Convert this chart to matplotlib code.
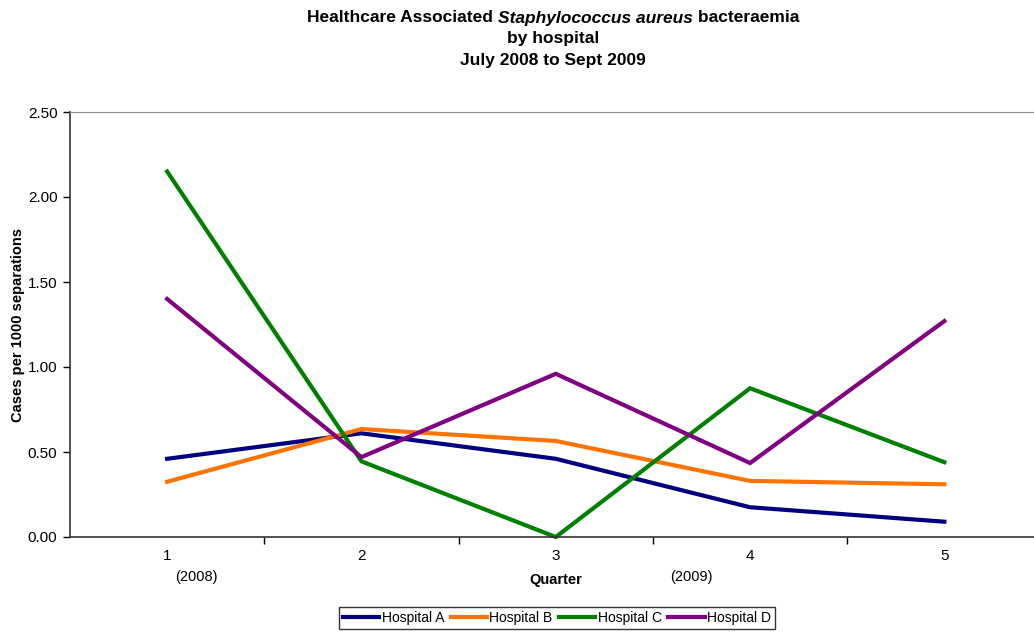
import matplotlib
matplotlib.use('Agg')
import matplotlib.pyplot as plt

plt.rcParams['font.family'] = ['Liberation Sans', 'DejaVu Sans']

# Data
quarters = [1, 2, 3, 4, 5]
hospital_a = [0.46, 0.61, 0.46, 0.175, 0.09]
hospital_b = [0.325, 0.635, 0.565, 0.33, 0.31]
hospital_c = [2.15, 0.445, 0.0, 0.875, 0.44]
hospital_d = [1.40, 0.47, 0.96, 0.435, 1.27]
series_names = ['Hospital A', 'Hospital B', 'Hospital C', 'Hospital D']
series_colors = ['#000080', '#ff7300', '#008000', '#800080']
y_ticks = [0.0, 0.5, 1.0, 1.5, 2.0, 2.5]

W, H = 1034, 632
fig = plt.figure(figsize=(W / 100, H / 100), dpi=100)
ax = fig.add_axes([70 / W, 1 - 537 / H, (1041.5 - 70) / W, (537 - 112) / H])

for vals, name, col in zip([hospital_a, hospital_b, hospital_c, hospital_d],
                           series_names, series_colors):
    ax.plot(quarters, vals, color=col, linewidth=3, label=name,
            solid_joinstyle='miter', clip_on=False)

ax.set_xlim(0.5, 5.5)
ax.set_ylim(0, 2.5)
ax.set_yticks(y_ticks)
ax.set_yticklabels([f'{v:.2f}' for v in y_ticks], fontsize=11)
ax.tick_params(axis='y', direction='out', length=5, width=1, pad=4)

# category labels without tick marks, ticks between categories
ax.set_xticks(quarters)
ax.set_xticklabels([str(q) for q in quarters], fontsize=11)
ax.set_xticks([1.5, 2.5, 3.5, 4.5], minor=True)
ax.tick_params(axis='x', which='major', length=0, pad=9)
ax.tick_params(axis='x', which='minor', direction='out', length=5, width=1)

for side in ['left', 'bottom']:
    ax.spines[side].set_color('#333333')
    ax.spines[side].set_linewidth(1.2)
ax.spines['top'].set_color('#888888')
ax.spines['top'].set_linewidth(0.8)
ax.spines['right'].set_visible(False)

ax.set_ylabel('Cases per 1000 separations', fontsize=10.5, fontweight='bold')
ax.yaxis.set_label_coords((25 - 70) / (1041.5 - 70), (537 - 325) / (537 - 112))
fig.text(556 / W, 1 - 580 / H, 'Quarter', fontsize=10.5, fontweight='bold',
         ha='center', va='center')
fig.text(196 / W, 1 - 577 / H, '(2008)', fontsize=10.5, ha='center', va='center')
fig.text(691 / W, 1 - 577 / H, '(2009)', fontsize=10.5, ha='center', va='center')

# Title, first line mixes bold and bold italic
title_parts = [('Healthcare Associated ', 'normal'),
               ('Staphylococcus aureus', 'italic'),
               (' bacteraemia', 'normal')]
renderer = fig.canvas.get_renderer()
texts = []
for s, style in title_parts:
    t = fig.text(0, 1 - 18 / H, s, fontsize=12.5, fontweight='bold', fontstyle=style,
                 ha='left', va='center')
    texts.append(t)
widths = [t.get_window_extent(renderer).width for t in texts]
x0 = 553 - sum(widths) / 2
for t, w in zip(texts, widths):
    t.set_x(x0 / W)
    x0 += w
fig.text(553 / W, 1 - 39 / H, 'by hospital', fontsize=12.5, fontweight='bold',
         ha='center', va='center')
fig.text(553 / W, 1 - 60 / H, 'July 2008 to Sept 2009', fontsize=12.5, fontweight='bold',
         ha='center', va='center')

leg = fig.legend(loc='center', bbox_to_anchor=(557 / W, 1 - 618 / H), ncol=4,
                 fontsize=10, frameon=True, fancybox=False, handlelength=2.6,
                 handletextpad=0.15, columnspacing=0.5, borderpad=0.3,
                 borderaxespad=0)
leg.get_frame().set_edgecolor('black')
leg.get_frame().set_linewidth(1.0)

fig.savefig('out.png', dpi=100)
